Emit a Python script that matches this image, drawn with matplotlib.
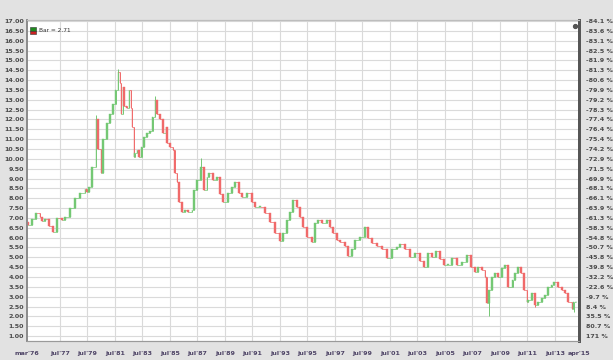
import numpy as np
import matplotlib
matplotlib.use("Agg")
import matplotlib.pyplot as plt
import matplotlib.patches as mpatches
from matplotlib.ticker import FixedLocator, FuncFormatter

# === DATA ===
dates = [1975.21, 1975.50, 1975.79, 1976.09, 1976.23, 1976.45, 1976.74, 1977.03, 1977.32, 1977.69,
         1977.90, 1978.27, 1978.63, 1978.99, 1979.36, 1979.50, 1979.65, 1979.87, 1980.16, 1980.30,
         1980.52, 1980.67, 1980.96, 1981.18, 1981.39, 1981.61, 1981.76, 1981.90, 1981.98, 1982.12,
         1982.19, 1982.41, 1982.56, 1982.70, 1982.78, 1982.92, 1982.99, 1983.14, 1983.28, 1983.50,
         1983.65, 1983.87, 1984.08, 1984.30, 1984.45, 1984.59, 1984.81, 1985.03, 1985.25, 1985.32,
         1985.54, 1985.76, 1985.90, 1986.05, 1986.19, 1986.41, 1986.63, 1986.85, 1987.14, 1987.29,
         1987.50, 1987.79, 1988.01, 1988.23, 1988.38, 1988.67, 1988.96, 1989.18, 1989.39, 1989.76,
         1990.05, 1990.27, 1990.56, 1990.78, 1991.14, 1991.50, 1991.72, 1992.09, 1992.45, 1992.81,
         1993.18, 1993.54, 1993.76, 1994.05, 1994.27, 1994.49, 1994.78, 1994.99, 1995.21, 1995.50,
         1995.87, 1996.09, 1996.30, 1996.59, 1996.96, 1997.18, 1997.39, 1997.68, 1997.90, 1998.27,
         1998.49, 1998.78, 1998.99, 1999.36, 1999.72, 1999.94, 2000.23, 2000.59, 2000.96, 2001.32,
         2001.69, 2002.05, 2002.27, 2002.63, 2002.99, 2003.36, 2003.72, 2004.01, 2004.30, 2004.59,
         2004.88, 2005.18, 2005.47, 2005.76, 2006.05, 2006.41, 2006.78, 2007.14, 2007.43, 2007.72,
         2007.94, 2008.23, 2008.45, 2008.59, 2008.74, 2008.96, 2009.18, 2009.39, 2009.68, 2009.90,
         2010.12, 2010.48, 2010.63, 2010.85, 2011.07, 2011.28, 2011.50, 2011.58, 2011.87, 2012.09,
         2012.30, 2012.59, 2012.81, 2013.03, 2013.32, 2013.46, 2013.76, 2014.05, 2014.27, 2014.49,
         2014.78, 2014.92, 2015.07]

closes = [6.65, 6.95, 7.25, 7.05, 6.85, 6.95, 6.60, 6.30, 7.00, 6.90,
          7.05, 7.50, 8.00, 8.25, 8.45, 8.30, 8.55, 9.60, 12.00, 10.50,
          9.30, 11.00, 11.80, 12.30, 12.80, 13.50, 14.40, 13.85, 12.30, 13.65,
          12.70, 12.60, 13.50, 12.60, 11.60, 10.10, 10.30, 10.45, 10.10, 10.60,
          11.10, 11.30, 11.40, 12.10, 13.00, 12.30, 12.00, 11.30, 11.60, 10.80,
          10.60, 10.45, 9.30, 8.80, 7.80, 7.30, 7.40, 7.30, 7.40, 8.40,
          8.90, 9.60, 8.40, 9.10, 9.30, 8.95, 9.10, 8.20, 7.80, 8.25,
          8.55, 8.80, 8.25, 8.05, 8.25, 7.80, 7.55, 7.55, 7.25, 6.80,
          6.25, 5.85, 6.25, 6.90, 7.30, 7.90, 7.55, 7.05, 6.55, 6.05,
          5.80, 6.75, 6.90, 6.75, 6.90, 6.55, 6.25, 5.90, 5.80, 5.55,
          5.05, 5.40, 5.90, 6.05, 6.55, 6.00, 5.75, 5.55, 5.40, 4.95,
          5.40, 5.50, 5.70, 5.40, 5.00, 5.20, 4.80, 4.50, 5.20, 5.00,
          5.30, 4.90, 4.60, 4.60, 4.95, 4.60, 4.75, 5.10, 4.50, 4.25,
          4.50, 4.35, 4.00, 2.70, 3.35, 4.00, 4.20, 4.00, 4.45, 4.60,
          3.50, 3.85, 4.20, 4.50, 4.20, 3.35, 2.75, 2.85, 3.20, 2.60,
          2.75, 2.95, 3.10, 3.50, 3.60, 3.75, 3.50, 3.35, 3.20, 2.75,
          2.35, 2.71, 2.71]

first_open = 6.80

# wick extremes that stick out beyond the candle bodies
spike_dates = [1980.16, 1981.76, 1984.45, 1987.79, 2008.74, 2012.09, 2014.92]
spike_values = [12.25, 14.55, 13.20, 10.05, 2.00, 2.50, 2.20]

last_value = 2.71

tick_years = [1975.14, 1977.54, 1979.54, 1981.54, 1983.54, 1985.54, 1987.54, 1989.54, 1991.54,
              1993.54, 1995.54, 1997.54, 1999.54, 2001.54, 2003.54, 2005.54, 2007.54, 2009.54,
              2011.54, 2013.54, 2015.29]
tick_labels = ["mar'76", "jul'77", "jul'79", "jul'81", "jul'83", "jul'85", "jul'87", "jul'89",
               "jul'91", "jul'93", "jul'95", "jul'97", "jul'99", "jul'01", "jul'03", "jul'05",
               "jul'07", "jul'09", "jul'11", "jul'13", "apr'15"]

# === STYLE ===
UP_COLOR = "#74c874"
DOWN_COLOR = "#f06a6a"
BG_COLOR = "#e2e2e2"
GRID_COLOR = "#dadada"
LABEL_COLOR = "#4a4a4a"
XLABEL_COLOR = "#4e4466"

W, H = 613, 360
fig = plt.figure(figsize=(W / 100, H / 100), dpi=100, facecolor=BG_COLOR)
ax = fig.add_axes([27 / W, 1 - 341 / H, (579 - 27) / W, (341 - 20) / H])
ax.set_facecolor("white")

dates_arr = np.array(dates)
closes_arr = np.array(closes)
opens_arr = np.concatenate([[first_open], closes_arr[:-1]])

# candle widths follow the spacing between samples
gaps = np.diff(np.concatenate([dates_arr, [dates_arr[-1] + 0.2]]))
widths = np.clip(gaps * 0.45, 0.05, 0.11)

highs = np.maximum(opens_arr, closes_arr)
lows = np.minimum(opens_arr, closes_arr)
for d, v in zip(spike_dates, spike_values):
    i = int(np.argmin(np.abs(dates_arr - d)))
    highs[i] = max(highs[i], v)
    lows[i] = min(lows[i], v)

colors = [UP_COLOR if c >= o else DOWN_COLOR for o, c in zip(opens_arr, closes_arr)]
ax.vlines(dates_arr, lows, highs, colors=colors, linewidth=0.7, zorder=3)
body = np.where(np.abs(closes_arr - opens_arr) < 0.04, 0.04, closes_arr - opens_arr)
ax.bar(dates_arr, body, bottom=opens_arr, width=widths, color=colors,
       edgecolor=colors, linewidth=0.3, zorder=4)
# thin connectors so the series reads as a continuous run of bars
ax.hlines(opens_arr, dates_arr - gaps * 0.0 - np.concatenate([[0.1], np.diff(dates_arr)]),
          dates_arr, colors=colors, linewidth=0.5, zorder=3)

# axes ranges
ax.set_xlim(1975.14, 2015.29)
ax.set_ylim(0.75, 17.05)

yticks = np.arange(1.0, 17.01, 0.5)
ax.yaxis.set_major_locator(FixedLocator(yticks))
ax.yaxis.set_major_formatter(FuncFormatter(lambda v, p: f"{v:.2f}"))
ax.set_xticks(tick_years)
ax.set_xticklabels(tick_labels)

ax.grid(True, axis="y", color=GRID_COLOR, linewidth=0.8, zorder=0)
for t in tick_years[1:-1]:
    ax.axvline(t, color=GRID_COLOR, linewidth=0.8, zorder=0)

ax.tick_params(axis="y", length=0, labelsize=4.6, labelcolor=LABEL_COLOR, pad=2)
ax.tick_params(axis="x", length=0, labelsize=4.6, labelcolor=XLABEL_COLOR, pad=7)
for lab in ax.get_yticklabels():
    lab.set_fontweight("bold")
for lab in ax.get_xticklabels():
    lab.set_fontweight("bold")

# right axis: change relative to last value
ax2 = ax.twinx()
ax2.set_ylim(ax.get_ylim())
ax2.yaxis.set_major_locator(FixedLocator(yticks))


def pct_fmt(v, pos):
    pct = (last_value / v - 1) * 100
    if abs(pct) >= 100:
        return f"{pct:.0f} %"
    return f"{pct:.1f} %"


ax2.yaxis.set_major_formatter(FuncFormatter(pct_fmt))
ax2.tick_params(axis="y", length=0, labelsize=4.6, labelcolor=LABEL_COLOR, pad=5)
for lab in ax2.get_yticklabels():
    lab.set_fontweight("bold")

for a in (ax, ax2):
    a.spines["top"].set_color("#bdbdbd")
    a.spines["bottom"].set_color("#9a9a9a")
    a.spines["left"].set_color("#8a8a8a")
    a.spines["left"].set_linewidth(1.2)
    a.spines["right"].set_color("#555555")
    a.spines["right"].set_linewidth(2.0)

# small legend box top-left
ax.add_patch(mpatches.Rectangle((0.006, 0.967), 0.011, 0.012, transform=ax.transAxes,
                                facecolor="#1f8a1f", edgecolor="#333333", linewidth=0.4, zorder=6))
ax.add_patch(mpatches.Rectangle((0.006, 0.955), 0.011, 0.012, transform=ax.transAxes,
                                facecolor="#cc2222", edgecolor="#333333", linewidth=0.4, zorder=6))
ax.text(0.021, 0.968, f"Bar = {last_value:.2f}", transform=ax.transAxes, fontsize=4.2,
        color="#333333", va="center", ha="left", zorder=6)

# gear icon top-right
ax.plot([0.992], [0.982], marker="o", markersize=2.8, color="#555555",
        transform=ax.transAxes, clip_on=False, zorder=6)

fig.savefig("out.png", dpi=100, facecolor=BG_COLOR)
